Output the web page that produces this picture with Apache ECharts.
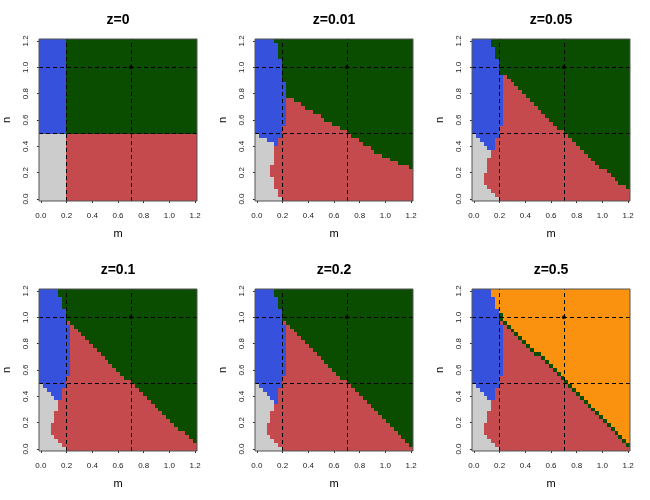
<!DOCTYPE html>
<html><head><meta charset="utf-8">
<script src="https://cdn.jsdelivr.net/npm/echarts@6/dist/echarts.min.js"></script>
<style>html,body{margin:0;padding:0;background:#fff}#c{width:650px;height:500px}</style>
</head><body><div id="c"></div>
<script>
// ---------- data ----------
const panelTitles = ['z=0', 'z=0.01', 'z=0.05', 'z=0.1', 'z=0.2', 'z=0.5'];
// grid of cell centres (m across, n up)
const mGrid = [0,0.03,0.06,0.09,0.12,0.15,0.18,0.21,0.24,0.27,0.3,0.33,0.36,0.39,0.42,0.45,0.48,0.51,0.54,0.57,0.6,0.63,0.66,0.69,0.72,0.75,0.78,0.81,0.84,0.87,0.9,0.93,0.96,0.99,1.02,1.05,1.08,1.11,1.14,1.17,1.2];
const nGrid = [0,0.03,0.06,0.09,0.12,0.15,0.18,0.21,0.24,0.27,0.3,0.33,0.36,0.39,0.42,0.45,0.48,0.51,0.54,0.57,0.6,0.63,0.66,0.69,0.72,0.75,0.78,0.81,0.84,0.87,0.9,0.93,0.96,0.99,1.02,1.05,1.08,1.11,1.14,1.17,1.2];
const tickValues = [0, 0.2, 0.4, 0.6, 0.8, 1.0, 1.2];
const tickLabels = ['0.0', '0.2', '0.4', '0.6', '0.8', '1.0', '1.2'];
const refM = [0.2, 0.7];
const refN = [0.5, 1.0];
const refPoint = [0.7, 1.0];
// Per row of nGrid (bottom to top): column index where each class ends
// (classes left to right: gray, blue, red, green, orange).
const z0_gray  = [7,7,7,7,7,7,7,7,7,7,7,7,7,7,7,7,7,0,0,0,0,0,0,0,0,0,0,0,0,0,0,0,0,0,0,0,0,0,0,0,0];
const z0_blue  = [7,7,7,7,7,7,7,7,7,7,7,7,7,7,7,7,7,7,7,7,7,7,7,7,7,7,7,7,7,7,7,7,7,7,7,7,7,7,7,7,7];
const z0_red   = [41,41,41,41,41,41,41,41,41,41,41,41,41,41,41,41,41,7,7,7,7,7,7,7,7,7,7,7,7,7,7,7,7,7,7,7,7,7,7,7,7];
const z0_green = [41,41,41,41,41,41,41,41,41,41,41,41,41,41,41,41,41,41,41,41,41,41,41,41,41,41,41,41,41,41,41,41,41,41,41,41,41,41,41,41,41];

const z001_gray  = [7,6,6,5,5,5,4,4,4,5,5,5,5,5,5,3,1,0,0,0,0,0,0,0,0,0,0,0,0,0,0,0,0,0,0,0,0,0,0,0,0];
const z001_blue  = [7,6,6,5,5,5,4,4,4,5,5,5,5,5,6,6,7,7,7,8,8,8,8,8,8,8,8,8,8,8,7,7,7,7,7,7,6,6,6,6,5];
const z001_red   = [41,41,41,41,41,41,41,41,40,37,35,33,31,30,28,27,25,24,22,20,18,17,15,13,12,10,8,8,8,8,7,7,7,7,7,7,6,6,6,6,5];
const z001_green = [41,41,41,41,41,41,41,41,41,41,41,41,41,41,41,41,41,41,41,41,41,41,41,41,41,41,41,41,41,41,41,41,41,41,41,41,41,41,41,41,41];

const z005_gray  = [7,6,5,4,3,3,3,4,4,4,4,5,5,4,3,2,1,0,0,0,0,0,0,0,0,0,0,0,0,0,0,0,0,0,0,0,0,0,0,0,0];
const z005_blue  = [7,6,5,4,3,3,3,4,4,4,4,5,5,6,6,6,7,7,7,8,8,8,8,8,8,8,8,8,8,8,8,8,7,7,7,7,6,6,6,5,5];
const z005_red   = [41,41,41,40,38,37,36,35,33,32,31,30,29,28,27,26,25,24,22,21,20,19,18,17,16,15,14,13,12,11,10,9,7,7,7,7,6,6,6,5,5];
const z005_green = [41,41,41,41,41,41,41,41,41,41,41,41,41,41,41,41,41,41,41,41,41,41,41,41,41,41,41,41,41,41,41,41,41,41,41,41,41,41,41,41,41];

const z01_gray  = [7,6,5,4,3,3,3,4,4,4,5,5,5,4,3,2,1,0,0,0,0,0,0,0,0,0,0,0,0,0,0,0,0,0,0,0,0,0,0,0,0];
const z01_blue  = [7,6,5,4,3,3,3,4,4,4,5,5,5,6,6,6,7,7,7,8,8,8,8,8,8,8,8,8,8,8,8,8,7,7,7,7,6,6,6,5,5];
const z01_red   = [41,41,40,39,38,36,35,34,33,32,31,30,29,28,27,26,25,24,22,21,20,19,18,17,16,15,14,13,12,11,10,9,8,7,7,7,6,6,6,5,5];
const z01_green = [41,41,41,41,41,41,41,41,41,41,41,41,41,41,41,41,41,41,41,41,41,41,41,41,41,41,41,41,41,41,41,41,41,41,41,41,41,41,41,41,41];

const z02_gray  = [7,6,5,4,3,3,3,4,4,4,5,5,5,4,3,2,1,0,0,0,0,0,0,0,0,0,0,0,0,0,0,0,0,0,0,0,0,0,0,0,0];
const z02_blue  = [7,6,5,4,3,3,3,4,4,4,5,5,6,6,6,6,7,7,7,8,8,8,8,8,8,8,8,8,8,8,8,8,7,7,7,7,6,6,6,5,5];
const z02_red   = [41,40,39,38,37,36,35,34,33,32,31,30,29,28,27,26,25,24,22,21,20,19,18,17,16,15,14,13,12,11,10,9,8,7,7,7,6,6,6,5,5];
const z02_green = [41,41,41,41,41,41,41,41,41,41,41,41,41,41,41,41,41,41,41,41,41,41,41,41,41,41,41,41,41,41,41,41,41,41,41,41,41,41,41,41,41];

const z05_gray  = [7,6,5,4,3,3,3,4,4,4,5,5,5,4,3,2,1,0,0,0,0,0,0,0,0,0,0,0,0,0,0,0,0,0,0,0,0,0,0,0,0];
const z05_blue  = [7,6,5,4,3,3,3,4,4,4,5,5,5,6,6,6,7,7,7,8,8,8,8,8,8,8,8,8,8,8,8,8,7,7,7,7,6,6,6,5,5];
const z05_red   = [41,40,39,38,37,36,35,34,33,32,31,30,29,28,27,26,25,24,23,22,21,20,19,18,16,15,14,13,12,11,10,9,8,7,7,7,6,6,6,5,5];
const z05_green = [41,41,40,39,38,37,36,35,34,33,32,31,30,29,28,27,26,25,24,23,22,21,20,19,18,16,15,14,13,12,11,10,9,8,8,7,6,6,6,5,5];

const panelData = [
  [z0_gray, z0_blue, z0_red, z0_green],
  [z001_gray, z001_blue, z001_red, z001_green],
  [z005_gray, z005_blue, z005_red, z005_green],
  [z01_gray, z01_blue, z01_red, z01_green],
  [z02_gray, z02_blue, z02_red, z02_green],
  [z05_gray, z05_blue, z05_red, z05_green]
];

// ---------- style ----------
const classColors = ['#CCCCCC', '#3652DC', '#C44A4D', '#0B4D00', '#FB920F'];
const FONT = '"Liberation Sans", Arial, Helvetica, sans-serif';
const colLeft = [39, 255, 472];
const rowTop = [39, 289];
const plotW = 158, plotH = 162;

const halfM = (mGrid[1] - mGrid[0]) / 2;
const halfN = (nGrid[1] - nGrid[0]) / 2;
const nCols = mGrid.length;

function buildRuns(bounds) {
  const runs = [];
  for (let j = 0; j < nGrid.length; j++) {
    const edges = [0, bounds[0][j], bounds[1][j], bounds[2][j], bounds[3][j], nCols];
    for (let c = 0; c < 5; c++) {
      const a = edges[c], b = edges[c + 1];
      if (b > a) runs.push([mGrid[a] - halfM, mGrid[b - 1] + halfM, nGrid[j], c]);
    }
  }
  return runs;
}

const grids = [], xAxes = [], yAxes = [], series = [], graphics = [];
const labelFmt = v => {
  const i = tickValues.findIndex(t => Math.abs(t - v) < 1e-9);
  return i >= 0 ? tickLabels[i] : v.toFixed(1);
};

panelTitles.forEach((title, p) => {
  const left = colLeft[p % 3], top = rowTop[Math.floor(p / 3)];
  grids.push({ left, top, width: plotW, height: plotH, show: true, z: 10,
    borderColor: '#555', borderWidth: 1, backgroundColor: 'rgba(0,0,0,0)' });
  xAxes.push({
    gridIndex: p, type: 'value', min: mGrid[0] - halfM, max: mGrid[nCols - 1] + halfM,
    axisLine: { show: false }, splitLine: { show: false },
    axisTick: { show: true, customValues: tickValues, length: 4, lineStyle: { color: '#333', width: 1 } },
    axisLabel: { customValues: tickValues, formatter: labelFmt, fontSize: 8, margin: 11, color: '#222', fontFamily: FONT },
    name: 'm', nameLocation: 'middle', nameGap: 27,
    nameTextStyle: { fontSize: 11, color: '#000', fontFamily: FONT }
  });
  yAxes.push({
    gridIndex: p, type: 'value', min: nGrid[0] - halfN, max: nGrid[nGrid.length - 1] + halfN,
    axisLine: { show: false }, splitLine: { show: false },
    axisTick: { show: true, customValues: tickValues, length: 4, lineStyle: { color: '#333', width: 1 } },
    axisLabel: { customValues: tickValues, formatter: labelFmt, fontSize: 8, margin: 9, rotate: 90, color: '#222', fontFamily: FONT },
    name: 'n', nameLocation: 'middle', nameGap: 27,
    nameTextStyle: { fontSize: 11, color: '#000', fontFamily: FONT }
  });
  series.push({
    type: 'custom', xAxisIndex: p, yAxisIndex: p, z: 2, silent: true, animation: false,
    data: buildRuns(panelData[p]),
    encode: { x: [0, 1], y: 2 },
    renderItem: (params, api) => {
      const p0 = api.coord([api.value(0), api.value(2) + halfN]);
      const p1 = api.coord([api.value(1), api.value(2) - halfN]);
      const x0 = Math.round(p0[0]), x1 = Math.round(p1[0]);
      const y0 = Math.round(p0[1]), y1 = Math.round(p1[1]);
      return { type: 'rect', shape: { x: x0, y: y0, width: x1 - x0, height: y1 - y0 },
        style: { fill: classColors[api.value(3)] } };
    }
  });
  series.push({
    type: 'scatter', xAxisIndex: p, yAxisIndex: p, z: 20, silent: true, animation: false,
    data: [refPoint], symbol: 'circle', symbolSize: 4, itemStyle: { color: '#000' },
    markLine: {
      silent: true, animation: false, symbol: ['none', 'none'], label: { show: false },
      lineStyle: { color: '#000', width: 1, type: [4, 3] },
      data: refM.map(v => ({ xAxis: v })).concat(refN.map(v => ({ yAxis: v })))
    }
  });
  graphics.push({
    type: 'text', x: left + plotW / 2, y: top - 19,
    style: { text: title, font: 'bold 14px ' + FONT, fill: '#000',
      align: 'center', verticalAlign: 'middle', textAlign: 'center', textVerticalAlign: 'middle' }
  });
});

const chart = echarts.init(document.getElementById('c'), null, { renderer: 'canvas' });
chart.setOption({
  animation: false,
  backgroundColor: '#fff',
  grid: grids, xAxis: xAxes, yAxis: yAxes, series: series,
  graphic: { elements: graphics }
});
</script>
</body></html>
